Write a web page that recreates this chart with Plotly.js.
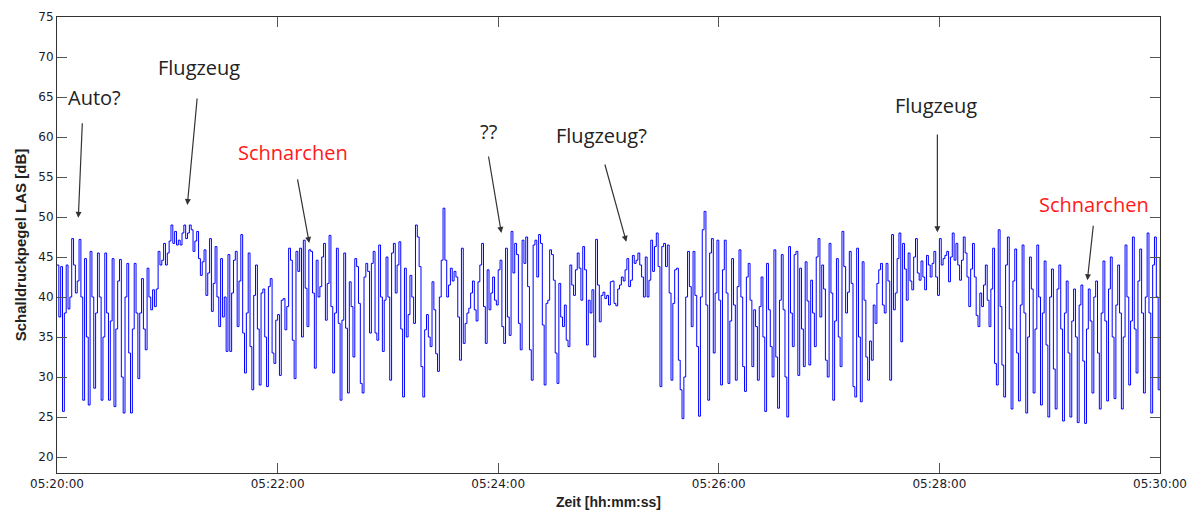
<!DOCTYPE html>
<html>
<head>
<meta charset="utf-8">
<script src="https://cdn.plot.ly/plotly-3.0.1.min.js"></script>
<style>
html,body{margin:0;padding:0;background:#fff;}
#chart{width:1193px;height:513px;}
</style>
</head>
<body>
<div id="chart"></div>
<script>
// Recording start (05:20:00) and sampling step
const startClock = [5, 20, 0];
const sampleSeconds = 1;

// Sound pressure level LAS [dB], one value per second, per minute
const las0520 = [44,37.5,43.8,25.7,38,44,38.5,40,47.3,44,40.5,42,47.2,40,27.1,44.8,35,26.5,45.7,40,28.6,38,45.5,40,27.1,35,45.5,38,27.1,37,44.8,26.3,36,42,44.7,30,25.5,40,44.2,33,25.5,36,44.2,38,29.8,38,42.3,36,33.4,43.6,40,38.4,40.9,38.8,41,45.7,44,44.6,46.7,44];
const las0521 = [45.5,47,49,46.7,48.2,46.5,47.1,46.5,48,49,47.3,48,49,48.4,45.7,47,48.2,44.8,42.7,44.4,45.9,40.2,43,47.3,38.2,41.7,46.3,40,36.3,44.8,37.5,40,33.2,45.3,33.2,40.5,44.6,45.7,36.3,42,47.8,35.5,30.5,38,45.5,33.8,28.4,40.2,44,36,29,40.5,41,35,28.8,41.3,42.3,33,31.7,37.1];
const las0522 = [37.8,30.2,39.6,39.8,35.9,38.8,46.1,44.6,34.6,29.8,45.7,43.2,46.1,35,47.1,41.1,36.3,45.9,45.7,40.5,31.1,44.6,40,41.3,45,46.7,37.1,41.7,47.7,38.8,30.5,38,46.1,36.7,27.1,37.1,45.5,36.1,28,41.9,38.8,32.5,44.8,43.8,39.2,29.2,28,42.5,44.2,43.2,35.5,44.2,45.7,35.5,34.6,46.5,40,33.2,39.6,45];
const las0523 = [40,29.6,45.5,46.7,40.5,44,46.9,36,27.5,43.6,35,37.8,42.7,40,36.7,49,47.5,43.8,31.3,27.5,35.9,37.8,35,33.8,41.9,38.4,32.9,30.7,40,44.6,51.1,44.6,40,41.5,43.6,42,43.2,42.5,37.5,32.1,46.1,34.2,36.7,38,38.6,40.5,42,38.4,37,41.9,44,46.7,38.8,34.2,43.4,38.4,40.5,42.5,39.6,39];
const las0524 = [43.4,44.6,36.3,34.2,46.1,37.5,35.2,48.2,43,46.7,45.3,36.7,33.4,47.1,44.2,47.5,41.3,33.4,29.6,46.5,47.1,42.5,47.8,46.7,36.5,29,39.2,39.6,45.9,45.3,42.1,33,29.2,41.7,37.5,36.3,39,34.6,33.8,44,41.5,40.2,43.4,45.5,43.6,39.6,46.3,43.4,34,39.6,38,40.9,32.5,47.2,41.5,36.9,40.2,40.6,39.8,40.2];
const las0525 = [39,41.9,42,39.2,38.9,41,41.5,42.5,42,43.4,44.8,41.3,42.1,45.2,44.2,44.6,45.5,44,42.5,40,45,40,42.1,47.1,43.2,46.3,48,43.8,28.8,46.3,46.7,43.8,46.5,40.5,29.6,39.2,43.4,43.6,32.1,28.4,24.8,30,40,45.7,41.3,36.3,45.7,40.2,33.8,25.1,40,48.4,50.7,39,27.1,45.5,47.3,33,40.5,47.1];
const las0526 = [39.6,29,43.4,47.1,40.5,29.2,37,44.8,39,29.6,41.3,45.9,40,31.3,28.2,42.5,44.2,39.6,31.3,38.4,36.3,29.6,38.8,42.5,35,25.7,44.2,38.4,33.8,30,45.9,32.5,26.1,39.6,45.3,38.4,30,25,46.3,38,33.8,45.3,45.7,30.2,43.6,36,31.3,44.4,39.5,31.5,42.1,38,33.8,45,47.3,37.5,44,41,32.1,30];
const las0527 = [46.7,40.5,27.1,37,44.8,35,31.3,48.2,43.8,38,40.6,45.7,41.7,28.8,27.5,46.1,35,26.9,44.4,39.6,32.5,29.6,34.5,32.1,39,36.7,41.7,43.4,44.2,39,38,44.2,42,29.6,47.8,38.4,40.5,44.8,48,34.4,46.7,43.5,39.6,45.5,42,40.9,45,47.3,43,42.1,44.5,42.5,40.9,45.2,44,42.5,44.2,45.7,42.5,40.2];
const las0528 = [47.3,44,44.8,45.2,45.7,41.9,45,48,44.6,46.7,44,42.1,44.6,47.5,45.5,42.5,38.8,43.5,46.7,42.5,37.7,36.3,40.5,38.8,41.5,44,39.6,36.3,41,46.1,31.7,29,48.4,38.8,31.5,27.5,44,47.5,36,26,42,46,33,27,39,46.5,38,25.5,35,45,41,28,36,46.5,40,26.5,38,44.5,34,25];
const las0529 = [40,43.5,31,26,41,44,36,24.5,38,42,33,25,37,41,35,24.3,39,41.5,32,24.2,36,41,37,28,40,42,33,26,38,44.5,37,27,41,45,35,27.3,39,44,38,26,35,46.5,40,29,37,47.5,36,30.5,42,46,38,28,40,48,38,25.5,44,47.5,40,28.4,45];

// Axis ticks
const yTickValues = [20,25,30,35,40,45,50,55,60,65,70,75];
const xTickSeconds = [0,120,240,360,480,600];

// Annotations: label, colour, label position (s, dB), arrow tail (s, dB), arrow tip (s, dB)
const noteLabels = ['Auto?','Flugzeug','Schnarchen','??','Flugzeug?','Flugzeug','Schnarchen'];
const noteColors = ['#222222','#222222','#ff1a1a','#222222','#222222','#222222','#ff1a1a'];
const noteTextSec = [20.3,77.4,128.3,234.9,296.1,478.1,564.1];
const noteTextDb  = [65.0,68.75,58.1,60.75,60.25,64.0,51.6];
const arrowTailSec = [13.8,76.3,130.7,234.6,297.8,478.9,563.8];
const arrowTailDb  = [61.9,65.0,54.9,57.75,56.75,60.5,49.1];
const arrowTipSec  = [11.6,70.9,137.2,241.7,309.7,478.9,560.5];
const arrowTipDb   = [49.9,51.5,46.75,48.0,46.9,48.1,42.1];

const lasDb = [].concat(las0520,las0521,las0522,las0523,las0524,las0525,las0526,las0527,las0528,las0529);
const t0 = Date.UTC(2000,0,1,startClock[0],startClock[1],startClock[2]);
const toTime = s => t0 + s*1000;
const times = lasDb.map((_, i) => toTime(i*sampleSeconds));

const trace = {
  x: times, y: lasDb, type: 'scatter', mode: 'lines',
  line: {color: '#0000ff', width: 1, shape: 'hv'},
  hoverinfo: 'skip'
};

const annotations = [];
noteLabels.forEach((lab, i) => {
  annotations.push({
    x: toTime(noteTextSec[i]), y: noteTextDb[i], xref: 'x', yref: 'y',
    text: lab, showarrow: false,
    font: {family: 'Open Sans, sans-serif', size: 20, color: noteColors[i]}
  });
  annotations.push({
    x: toTime(arrowTipSec[i]), y: arrowTipDb[i], xref: 'x', yref: 'y',
    ax: toTime(arrowTailSec[i]), ay: arrowTailDb[i], axref: 'x', ayref: 'y',
    text: '', showarrow: true, arrowhead: 2, arrowsize: 1, arrowwidth: 1.2,
    arrowcolor: '#333333', standoff: 0, startstandoff: 0
  });
});

const tickFont = {family: 'DejaVu Sans, sans-serif', size: 12, color: '#1a1a2a'};
const layout = {
  width: 1193, height: 513,
  margin: {l: 57, r: 33, t: 17, b: 40},
  paper_bgcolor: '#ffffff', plot_bgcolor: '#ffffff',
  showlegend: false,
  xaxis: {
    type: 'date',
    range: [toTime(0), toTime(600)],
    tickvals: xTickSeconds.map(toTime),
    tickformat: '%H:%M:%S',
    ticks: 'inside', ticklen: 10, tickwidth: 1, tickcolor: '#555555',
    showline: true, linecolor: '#333333', linewidth: 1, mirror: 'ticks',
    showgrid: false, zeroline: false,
    tickfont: tickFont,
    title: {text: 'Zeit [hh:mm:ss]', standoff: 6,
            font: {family: 'Liberation Sans, Arial, sans-serif', size: 14, color: '#222222', weight: 'bold'}}
  },
  yaxis: {
    range: [18, 75],
    tickvals: yTickValues,
    ticks: 'inside', ticklen: 10, tickwidth: 1, tickcolor: '#555555',
    showline: true, linecolor: '#333333', linewidth: 1, mirror: 'ticks',
    showgrid: false, zeroline: false,
    tickfont: tickFont,
    title: {text: 'Schalldruckpegel LAS [dB]', standoff: 8,
            font: {family: 'Liberation Sans, Arial, sans-serif', size: 15, color: '#222222', weight: 'bold'}}
  },
  annotations: annotations
};

Plotly.newPlot('chart', [trace], layout, {displayModeBar: false, staticPlot: true});
</script>
</body>
</html>
